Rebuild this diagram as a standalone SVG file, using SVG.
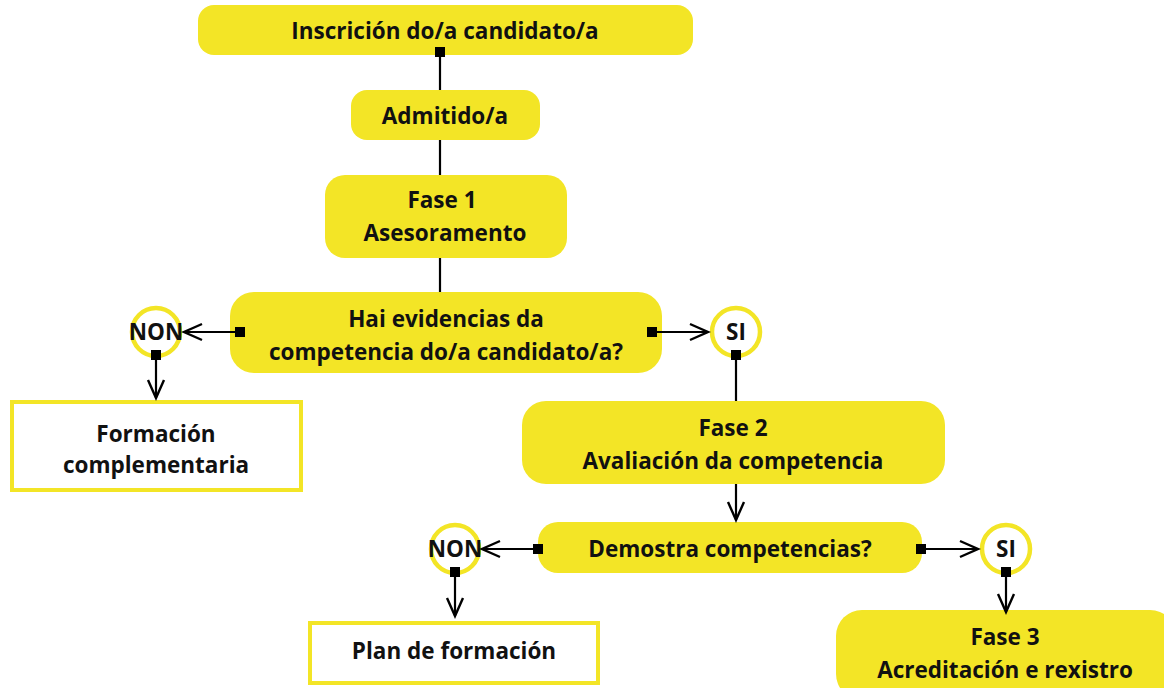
<svg xmlns="http://www.w3.org/2000/svg" width="1164" height="688" viewBox="0 0 1164 688">
<style>
.box{fill:#F3E526}
.obox{fill:#fff;stroke:#F3E526;stroke-width:4}
.circ{fill:#fff;stroke:#F3E526;stroke-width:4.5}
text{font-family:"Open Sans","Liberation Sans",sans-serif;font-weight:bold;font-size:22.5px;fill:#111;text-anchor:middle}
.ln{stroke:#000;stroke-width:2.2;fill:none}
.sq{fill:#000}
</style>
<defs>
<marker id="arr" markerUnits="userSpaceOnUse" markerWidth="24" markerHeight="24" refX="20" refY="10" orient="auto" viewBox="0 0 24 20">
<polyline points="2,2 20,10 2,18" fill="none" stroke="#000" stroke-width="2.4"/>
</marker>
</defs>
<g id="n1"><rect class="box" x="198" y="5" width="495" height="50" rx="16"/><text x="445" y="39">Inscrición do/a candidato/a</text></g>
<g id="n2"><rect class="box" x="351" y="90" width="189" height="50" rx="16"/><text x="445" y="124">Admitido/a</text></g>
<g id="n3"><rect class="box" x="325" y="175" width="242" height="83" rx="20"/><text x="442" y="208">Fase 1</text><text x="445" y="241">Asesoramento</text></g>
<g id="n4"><rect class="box" x="230" y="292" width="432" height="81" rx="24"/><text x="446" y="327">Hai evidencias da</text><text x="446" y="360">competencia do/a candidato/a?</text></g>
<g id="n5"><circle class="circ" cx="156" cy="332" r="24"/><text x="156" y="340">NON</text></g>
<g id="n6"><rect class="obox" x="12" y="402" width="289" height="88"/><text x="156" y="442">Formación</text><text x="156" y="473">complementaria</text></g>
<g id="n7"><circle class="circ" cx="736" cy="332" r="24"/><text x="736" y="340">SI</text></g>
<g id="n8"><rect class="box" x="522" y="401" width="423" height="83" rx="24"/><text x="733" y="436">Fase 2</text><text x="733" y="469">Avaliación da competencia</text></g>
<g id="n9"><rect class="box" x="538" y="522" width="384" height="51" rx="20"/><text x="730" y="557">Demostra competencias?</text></g>
<g id="n10"><circle class="circ" cx="455" cy="549" r="24"/><text x="455" y="557">NON</text></g>
<g id="n11"><rect class="obox" x="310" y="623" width="288" height="60"/><text x="454" y="659">Plan de formación</text></g>
<g id="n12"><circle class="circ" cx="1006" cy="549" r="24"/><text x="1006" y="557">SI</text></g>
<g id="n13"><rect class="box" x="836" y="610" width="340" height="90" rx="26"/><text x="1005" y="645">Fase 3</text><text x="1005" y="678">Acreditación e rexistro</text></g>
<g id="connectors">
<line class="ln" x1="440" y1="52" x2="440" y2="90"/>
<line class="ln" x1="440" y1="140" x2="440" y2="175"/>
<line class="ln" x1="440" y1="258" x2="440" y2="292"/>
<line class="ln" x1="240" y1="332" x2="184" y2="332" marker-end="url(#arr)"/>
<line class="ln" x1="156" y1="355" x2="156" y2="398" marker-end="url(#arr)"/>
<line class="ln" x1="652" y1="332" x2="708" y2="332" marker-end="url(#arr)"/>
<line class="ln" x1="736" y1="355" x2="736" y2="401"/>
<line class="ln" x1="736" y1="484" x2="736" y2="520" marker-end="url(#arr)"/>
<line class="ln" x1="538" y1="549" x2="482" y2="549" marker-end="url(#arr)"/>
<line class="ln" x1="455" y1="572" x2="455" y2="616" marker-end="url(#arr)"/>
<line class="ln" x1="922" y1="549" x2="978" y2="549" marker-end="url(#arr)"/>
<line class="ln" x1="1006" y1="572" x2="1006" y2="612" marker-end="url(#arr)"/>
<rect class="sq" x="435" y="47" width="10" height="10"/>
<rect class="sq" x="235" y="327" width="10" height="10"/>
<rect class="sq" x="647" y="327" width="10" height="10"/>
<rect class="sq" x="533" y="544" width="10" height="10"/>
<rect class="sq" x="916" y="544" width="10" height="10"/>
<rect class="sq" x="151" y="350" width="10" height="10"/>
<rect class="sq" x="731" y="350" width="10" height="10"/>
<rect class="sq" x="450" y="567" width="10" height="10"/>
<rect class="sq" x="1001" y="567" width="10" height="10"/>
</g>
</svg>
